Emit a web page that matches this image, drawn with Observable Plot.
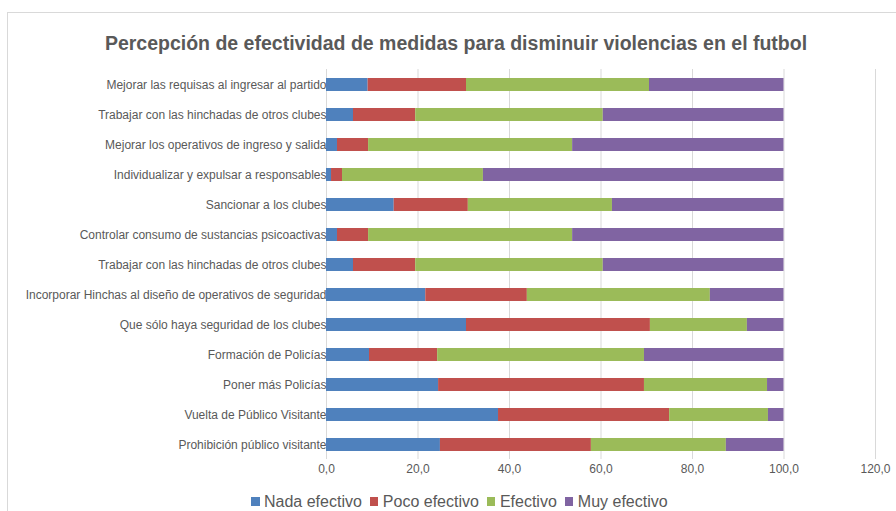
<!DOCTYPE html>
<html>
<head>
<meta charset="utf-8">
<script src="https://cdn.jsdelivr.net/npm/d3@7"></script>
<script src="https://cdn.jsdelivr.net/npm/@observablehq/plot@0.6"></script>
<style>
  html, body { margin: 0; padding: 0; background: #fff; overflow: hidden; }
  #wrap { position: relative; width: 896px; height: 511px; overflow: hidden; font-family: "Liberation Sans", Arial, sans-serif; }
  #frame { position: absolute; left: 7px; top: 12px; width: 1000px; height: 700px; border: 1px solid #d9d9d9; box-sizing: border-box; }
  #title { position: absolute; left: 0; top: 32px; width: 912px; text-align: center; font-size: 19.5px; line-height: 22px; font-weight: bold; color: #595959; white-space: nowrap; }
  #chart { position: absolute; left: 0; top: 0; }
  #legend { position: absolute; left: 251px; top: 493px; display: flex; gap: 8px; font-size: 16px; line-height: 17px; color: #595959; white-space: nowrap; }
  #legend .item { display: flex; align-items: center; gap: 4.5px; }
  #legend .sw { width: 8.5px; height: 8.5px; display: inline-block; }
</style>
</head>
<body>
<div id="wrap">
  <div id="frame"></div>
  <div id="chart"></div>
  <div id="title">Percepción de efectividad de medidas para disminuir violencias en el futbol</div>
  <div id="legend"></div>
</div>
<script>
const categories = [
  "Mejorar las requisas al ingresar al partido",
  "Trabajar con las hinchadas de otros clubes",
  "Mejorar los operativos de ingreso y salida",
  "Individualizar y expulsar a responsables",
  "Sancionar a los clubes",
  "Controlar consumo de sustancias psicoactivas",
  "Trabajar con las hinchadas de otros clubes",
  "Incorporar Hinchas al diseño de operativos de seguridad",
  "Que sólo haya seguridad de los clubes",
  "Formación de Policías",
  "Poner más Policías",
  "Vuelta de Público Visitante",
  "Prohibición público visitante"
];
const seriesNames = ["Nada efectivo", "Poco efectivo", "Efectivo", "Muy efectivo"];
const seriesColors = ["#4F81BD", "#C0504D", "#9BBB59", "#8064A2"];
const nada     = [9.1, 5.9, 2.4, 1.1, 14.8, 2.4, 5.9, 21.7, 30.6, 9.4, 24.5, 37.6, 24.9];
const poco     = [21.5, 13.6, 6.8, 2.4, 16.2, 6.8, 13.6, 22.2, 40.2, 14.9, 45.0, 37.4, 33.0];
const efectivo = [40.0, 41.0, 44.6, 30.8, 31.5, 44.6, 41.0, 40.0, 21.2, 45.2, 26.9, 21.6, 29.5];
const muy      = [29.4, 39.5, 46.2, 65.7, 37.5, 46.2, 39.5, 16.1, 8.0, 30.5, 3.6, 3.4, 12.6];
const xTicks = [0, 20, 40, 60, 80, 100, 120];

const seriesValues = [nada, poco, efectivo, muy];
const rows = [];
seriesNames.forEach((s, k) => {
  categories.forEach((c, i) => rows.push({i, series: s, value: seriesValues[k][i]}));
});

const fmt = d => d.toFixed(1).replace(".", ",");

const chart = Plot.plot({
  width: 896,
  height: 490,
  marginLeft: 326,
  marginRight: 21,
  marginTop: 69,
  marginBottom: 31,
  style: {fontFamily: "'Liberation Sans', Arial, sans-serif", color: "#595959", background: "transparent"},
  x: {domain: [0, 120], ticks: xTicks, tickFormat: fmt, tickSize: 0, tickPadding: 5, label: null},
  y: {domain: d3.range(categories.length), paddingInner: 0.58, paddingOuter: 0.29, tickSize: 0, tickPadding: 0, tickFormat: i => categories[i], label: null},
  color: {domain: seriesNames, range: seriesColors},
  marks: [
    Plot.ruleX(xTicks, {stroke: "#d9d9d9", strokeWidth: 1}),
    Plot.barX(rows, Plot.stackX({x: "value", y: "i", fill: "series", order: seriesNames})),
    Plot.axisX({ticks: xTicks, tickFormat: fmt, tickSize: 0, tickPadding: 5, fontSize: 12, label: null}),
    Plot.axisY({tickSize: 0, tickPadding: 0, fontSize: 12, tickFormat: i => categories[i], label: null})
  ]
});
document.getElementById("chart").appendChild(chart);

const legend = document.getElementById("legend");
seriesNames.forEach((s, k) => {
  const it = document.createElement("span");
  it.className = "item";
  const sw = document.createElement("span");
  sw.className = "sw";
  sw.style.background = seriesColors[k];
  it.appendChild(sw);
  it.appendChild(document.createTextNode(s));
  legend.appendChild(it);
});
</script>
</body>
</html>
